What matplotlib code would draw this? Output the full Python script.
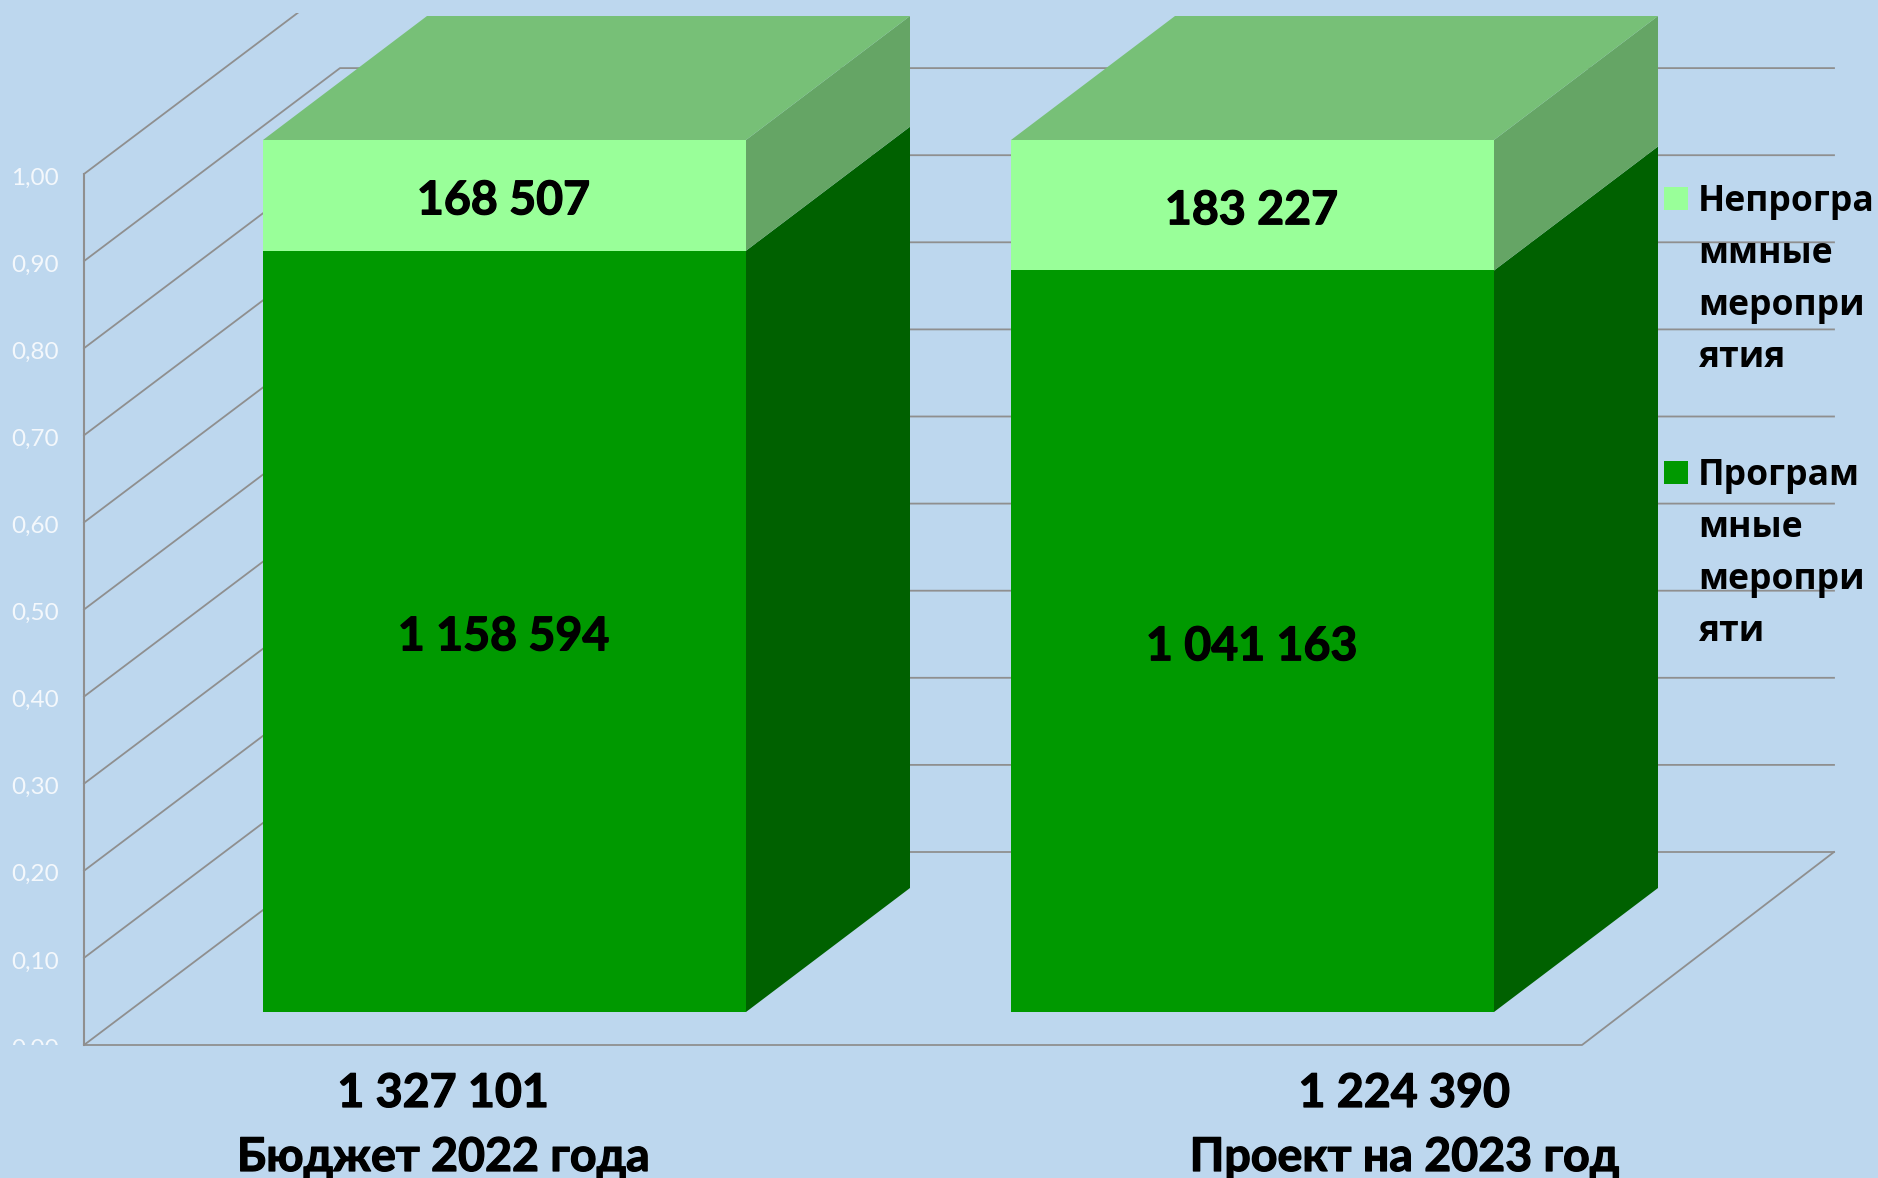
from __future__ import annotations

import matplotlib

matplotlib.use("Agg")

import matplotlib.patheffects as pe
import matplotlib.pyplot as plt
from matplotlib.patches import Rectangle


CATEGORIES = ["Бюджет 2022 года", "Проект на 2023 год"]
TOTALS = [1327101, 1224390]
PROGRAM = [1158594, 1041163]
NON_PROGRAM = [168507, 183227]
TICKS = [0.0, 0.1, 0.2, 0.3, 0.4, 0.5, 0.6, 0.7, 0.8, 0.9, 1.0]
LEGEND_NON_PROGRAM = ["Непрогра", "ммные", "меропри", "ятия"]
LEGEND_PROGRAM = ["Програм", "мные", "меропри", "яти"]

BG = "#BDD7EE"
GRID = "#8F8F8F"
LIGHT = "#99FF99"
LIGHT_TOP = "#77C077"
LIGHT_SIDE = "#65A565"
GREEN = "#009900"
GREEN_SIDE = "#006100"

# pixel layout of the fake 3d chart
WIDTH, HEIGHT = 1878, 1178
WALL_X = 84
FLOOR_Y = 1045
FLOOR_RIGHT = 1582
BACK_RIGHT = 1834
BACK_X = 340
BACK_DY = 193
UNIT = 871
BAR_LEFTS = [263, 1011]
BAR_WIDTH = 483
BAR_BASE = 1012
BAR_UNIT = 872
DEPTH_X = 164
DEPTH_Y = 124
CAT_X = [443, 1404]

LABEL_FONT = ["Lato", "Noto Sans", "DejaVu Sans"]
LEGEND_FONT = ["Open Sans", "DejaVu Sans"]
HEAVY = [pe.withStroke(linewidth=0.9, foreground="black")]


def fmt(value: int) -> str:
    return f"{value:,}".replace(",", " ")


def bold_label(ax, x: float, y: float, text: str) -> None:
    ax.text(x, y, text, fontsize=33.5, weight="bold", family=LABEL_FONT, ha="center", va="center",
            color="black", zorder=5, path_effects=HEAVY)


def draw_walls(ax) -> None:
    clip = Rectangle((0, 13), WIDTH, FLOOR_Y - 13, transform=ax.transData)
    for tick in TICKS:
        y = FLOOR_Y - UNIT * tick
        back_y = y - BACK_DY
        line, = ax.plot([WALL_X, BACK_X, BACK_RIGHT], [y, back_y, back_y], color=GRID, lw=1.3, zorder=1)
        line.set_clip_path(clip)
        label = ax.text(59, y + 4, f"{tick:.2f}".replace(".", ","), color="#F4F8FC", fontsize=17.5,
                        family=LABEL_FONT, ha="right", va="center", zorder=2)
        label.set_clip_path(clip)
        label.set_clip_on(True)
    ax.plot([WALL_X, WALL_X], [FLOOR_Y, FLOOR_Y - UNIT], color=GRID, lw=1.5, zorder=1)
    ax.plot([WALL_X, FLOOR_RIGHT, BACK_RIGHT], [FLOOR_Y, FLOOR_Y, FLOOR_Y - BACK_DY], color=GRID, lw=1.3, zorder=1)


def draw_bar(ax, left: int, low: float, high: float, front: str, side: str) -> None:
    right = left + BAR_WIDTH
    y0 = BAR_BASE - BAR_UNIT * low
    y1 = BAR_BASE - BAR_UNIT * high
    ax.fill([left, right, right, left], [y0, y0, y1, y1], color=front, lw=0, zorder=4)
    ax.fill([right, right + DEPTH_X, right + DEPTH_X, right],
            [y0, y0 - DEPTH_Y, y1 - DEPTH_Y, y1], color=side, lw=0, zorder=3)


def draw_bars(ax) -> None:
    for i, left in enumerate(BAR_LEFTS):
        share = PROGRAM[i] / TOTALS[i]
        draw_bar(ax, left, 0.0, share, GREEN, GREEN_SIDE)
        draw_bar(ax, left, share, 1.0, LIGHT, LIGHT_SIDE)
        top = BAR_BASE - BAR_UNIT
        right = left + BAR_WIDTH
        ax.fill([left, right, right + DEPTH_X, left + DEPTH_X],
                [top, top, top - DEPTH_Y, top - DEPTH_Y], color=LIGHT_TOP, lw=0, zorder=3)

        center = left + BAR_WIDTH / 2
        bold_label(ax, center - 1, BAR_BASE - BAR_UNIT * share / 2 + 5, fmt(PROGRAM[i]))
        bold_label(ax, center - 1, BAR_BASE - BAR_UNIT * (share + 1.0) / 2 + 5, fmt(NON_PROGRAM[i]))
        bold_label(ax, CAT_X[i], 1093, fmt(TOTALS[i]))
        bold_label(ax, CAT_X[i], 1157, CATEGORIES[i])


def draw_legend(ax) -> None:
    entries = [(LEGEND_NON_PROGRAM, LIGHT, 187), (LEGEND_PROGRAM, GREEN, 461)]
    for lines, color, top in entries:
        ax.add_patch(Rectangle((1664, top), 24, 23, color=color, lw=0, zorder=5))
        for k, line in enumerate(lines):
            ax.text(1698, top + 15 + 52 * k, line, fontsize=25.6, weight="bold", family=LEGEND_FONT,
                    ha="left", va="center", color="black", zorder=6)


def main() -> None:
    fig = plt.figure(figsize=(WIDTH / 100, HEIGHT / 100), dpi=100, facecolor=BG)
    ax = fig.add_axes([0, 0, 1, 1])
    ax.set_xlim(0, WIDTH)
    ax.set_ylim(HEIGHT, 0)
    ax.axis("off")

    draw_walls(ax)
    draw_bars(ax)
    draw_legend(ax)

    fig.savefig("out.png", dpi=100, facecolor=BG)
    plt.close(fig)


if __name__ == "__main__":
    main()
